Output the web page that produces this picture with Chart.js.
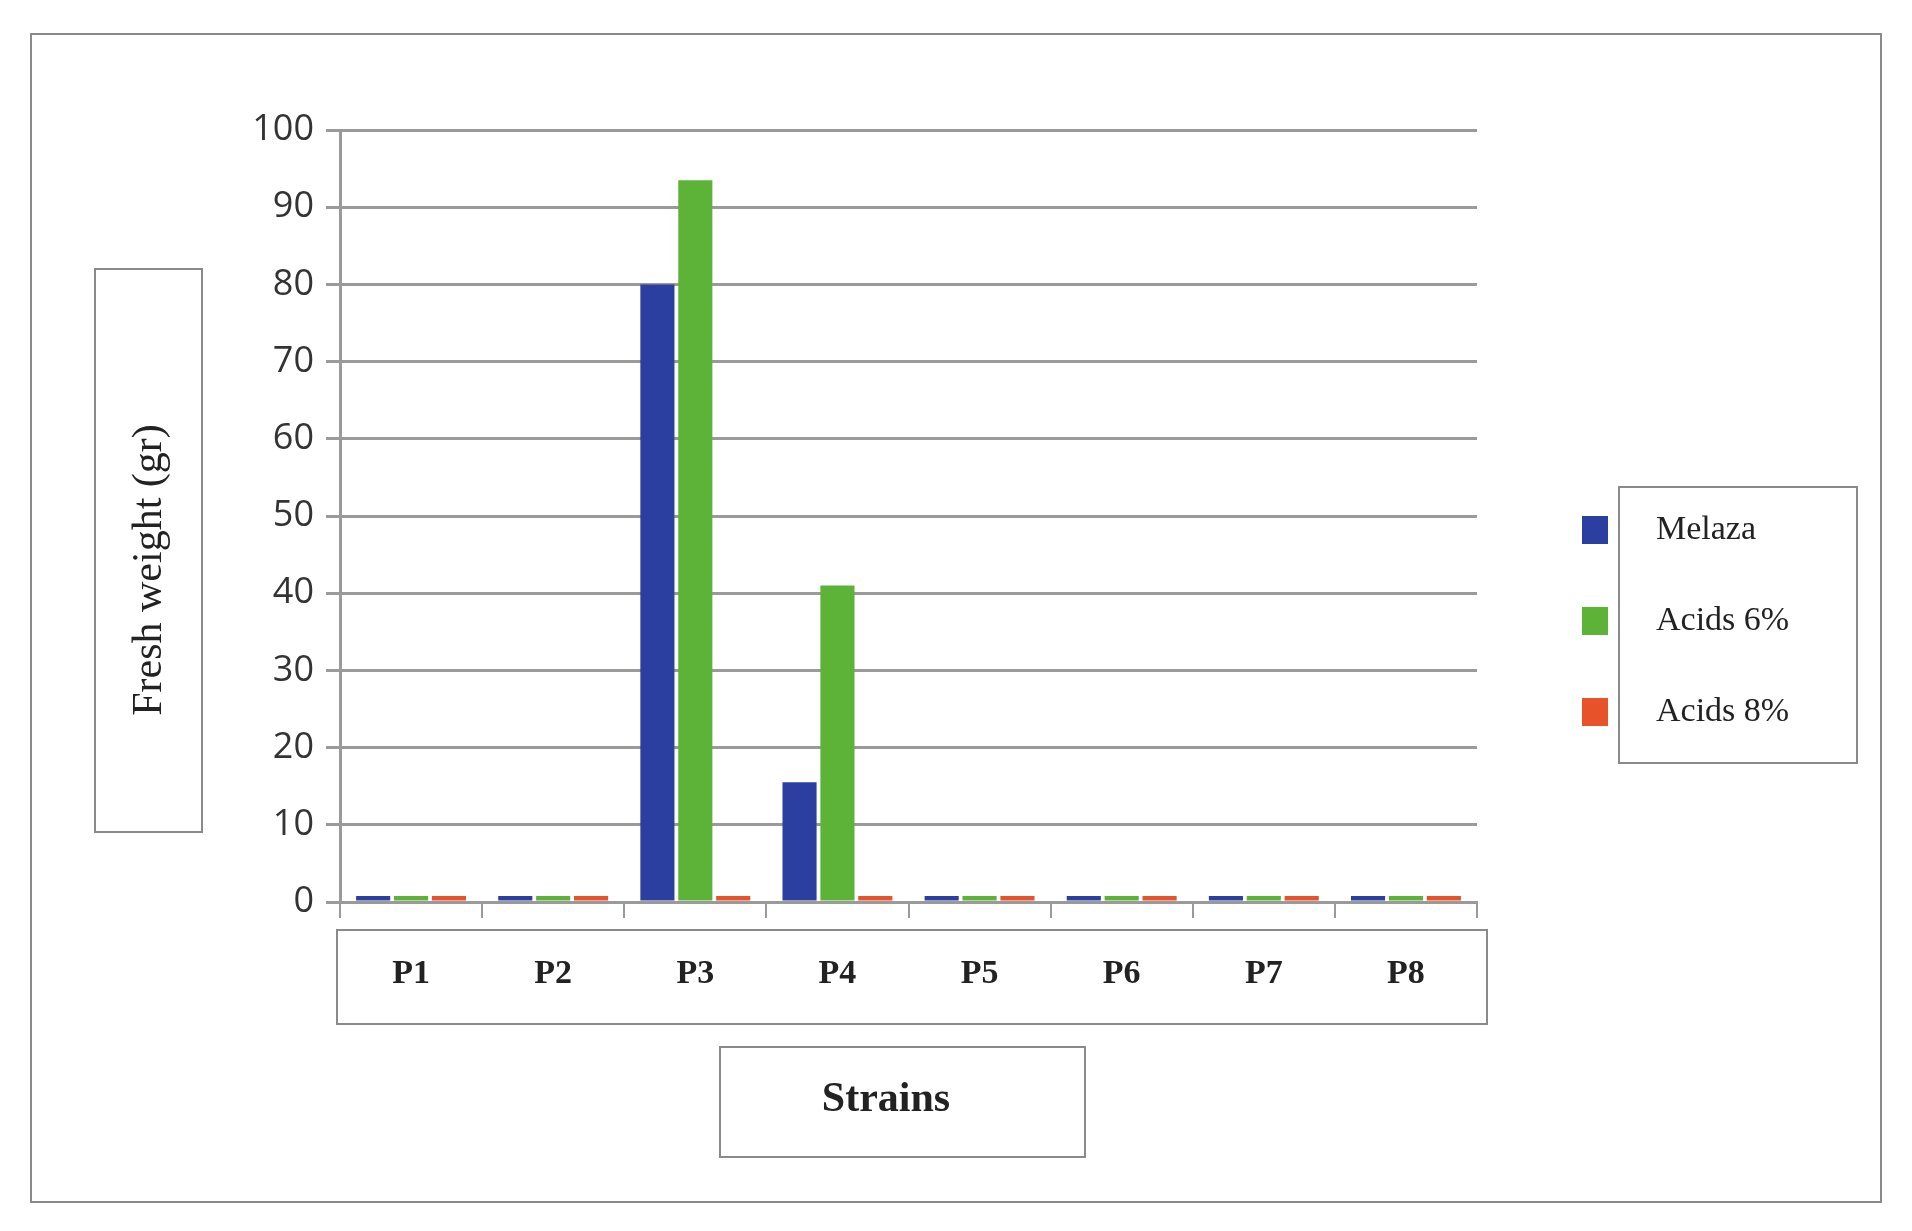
<!DOCTYPE html>
<html><head><meta charset="utf-8">
<script src="https://cdn.jsdelivr.net/npm/chart.js@4"></script>
<style>html,body{margin:0;padding:0;background:#fff}#w{width:1912px;height:1231px}</style>
</head><body><div id="w"><canvas id="c"></canvas></div>
<script>
const categories = ["P1","P2","P3","P4","P5","P6","P7","P8"];
const melaza = [0,0,80,15.5,0,0,0,0];
const acids6 = [0,0,93.5,41,0,0,0,0];
const acids8 = [0,0,0,0,0,0,0,0];
const seriesNames = ["Melaza","Acids 6%","Acids 8%"];
const colors = ["#2b3fa0","#5cb338","#e8522a"];

const boxes = {
  id:'boxes',
  afterDraw(ch){
    const c=ch.ctx; c.save();
    c.strokeStyle='#8a8a8a'; c.lineWidth=2;
    c.strokeRect(31,34,1850,1168);
    c.strokeRect(337,930,1150,94);
    c.strokeRect(720,1047,365,110);
    c.strokeRect(95,269,107,563);
    c.strokeRect(1619,487,238,276);
    c.fillStyle='#222';
    c.font='bold 42px "Liberation Serif"'; c.textAlign='center'; c.textBaseline='middle';
    c.fillText('Strains',886,1100);
    c.save(); c.translate(150,570); c.rotate(-Math.PI/2);
    c.font='42px "Liberation Serif"'; c.fillText('Fresh weight (gr)',0,0); c.restore();
    c.font='34px "Liberation Serif"'; c.textAlign='left';
    seriesNames.forEach((n,i)=>{
      const y=530+i*91;
      c.fillStyle=colors[i]; c.fillRect(1582,y-14,26,28);
      c.fillStyle='#222'; c.fillText(n,1656,y);
    });
    c.restore();
  }
};

new Chart(document.getElementById('c'),{
  type:'bar',
  data:{labels:categories,datasets:[
    {label:seriesNames[0],data:melaza,backgroundColor:colors[0],minBarLength:6},
    {label:seriesNames[1],data:acids6,backgroundColor:colors[1],minBarLength:6},
    {label:seriesNames[2],data:acids8,backgroundColor:colors[2],minBarLength:6}]},
  options:{responsive:true,maintainAspectRatio:false,animation:false,
    layout:{padding:{top:130,right:435,bottom:0,left:0}},
    plugins:{legend:{display:false},tooltip:{enabled:false}},
    scales:{
      x:{grid:{display:true,drawOnChartArea:false,color:'#9a9a9a',lineWidth:2,tickLength:16,offset:true},
         border:{color:'#9a9a9a',width:3},
         categoryPercentage:0.6,barPercentage:0.9,
         ticks:{color:'#222',font:{family:'Liberation Serif',size:34,weight:'bold'},padding:36},
         afterFit(s){s.height=329;}},
      y:{min:0,max:100,
         ticks:{stepSize:10,color:'#333',font:{family:'Open Sans',size:36},padding:12},
         grid:{color:'#9a9a9a',lineWidth:3,tickLength:14},
         border:{color:'#9a9a9a',width:3},
         afterFit(s){s.width=340;}}
    }},
  plugins:[boxes]
});
</script></body></html>
